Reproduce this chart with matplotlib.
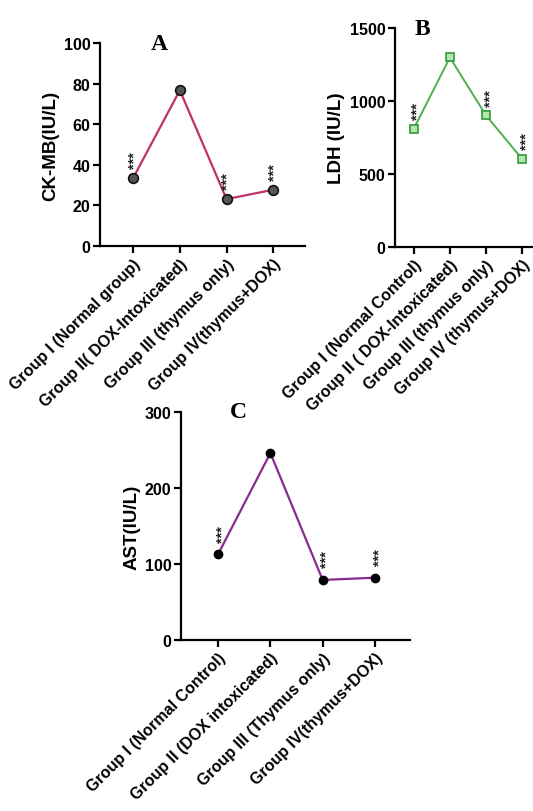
import numpy as np
import matplotlib.pyplot as plt

plt.rcParams['font.family'] = ['Liberation Sans', 'DejaVu Sans']
plt.rcParams['font.weight'] = 'bold'

# panel A
labels_a = ['Group I (Normal group)', 'Group II( DOX-Intoxicated)',
            'Group III (thymus only)', 'Group IV(thymus+DOX)']
ckmb = [33.5, 76.7, 23.1, 27.7]
stars_a = ['***', '', '***', '***']

# panel B
labels_b = ['Group I (Normal Control)', 'Group II ( DOX-Intoxicated)',
            'Group III (thymus only)', 'Group IV (thymus+DOX)']
ldh = [810, 1298, 901, 603]
stars_b = ['***', '', '***', '***']

# panel C
labels_c = ['Group I (Normal Control)', 'Group II (DOX intoxicated)',
            'Group III (Thymus only)', 'Group IV(thymus+DOX)']
ast = [113, 246, 79, 82]
stars_c = ['***', '', '***', '***']

W, H = 533, 812
fig = plt.figure(figsize=(W / 100, H / 100), dpi=100)


def add_ax(left, right, top, bottom):
    return fig.add_axes([left / W, 1 - bottom / H, (right - left) / W, (bottom - top) / H])


def style(ax, labels, ylabel, title, tx, ylim, yticks, xlim):
    x = np.arange(len(labels))
    for s in ['top', 'right']:
        ax.spines[s].set_visible(False)
    for s in ['left', 'bottom']:
        ax.spines[s].set_linewidth(1.6)
    ax.set_xlim(*xlim)
    ax.set_ylim(*ylim)
    ax.set_yticks(yticks)
    ax.set_xticks(x)
    ax.set_xticklabels(labels, rotation=45, ha='right', va='top',
                       rotation_mode='anchor', fontsize=11.2, fontweight='bold')
    ax.tick_params(width=1.6, length=5, labelsize=11.5, pad=2)
    ax.set_ylabel(ylabel, fontsize=13.5, fontweight='bold', labelpad=3)
    ax.text(tx, 1.0, title, transform=ax.transAxes, family='Liberation Serif',
            fontsize=17, fontweight='bold', ha='center', va='center')


def add_stars(ax, vals, stars, dx, dy):
    for i, (v, s) in enumerate(zip(vals, stars)):
        if s:
            ax.annotate(s, (i, v), xytext=(dx, dy), textcoords='offset points',
                        rotation=90, ha='center', va='bottom', fontsize=10.5,
                        color='#222222')


# A
ax = add_ax(100, 305, 44, 247)
xa = np.arange(4)
ax.plot(xa, ckmb, color='#c0306a', lw=1.6, marker='o', ms=7,
        mfc='#555555', mec='#111111', mew=1.2)
style(ax, labels_a, 'CK-MB(IU/L)', 'A', 0.29, (0, 100), [0, 20, 40, 60, 80, 100],
      (-0.71, 3.68))
add_stars(ax, ckmb, stars_a, 1, 7)

# B
ax = add_ax(395, 533, 29, 248)
ax.plot(xa, ldh, color='#4caf50', lw=1.4, marker='s', ms=6,
        mfc='#b8e6b0', mec='#2e9a3a', mew=1.2)
style(ax, labels_b, 'LDH (IU/L)', 'B', 0.2, (0, 1500), [0, 500, 1000, 1500],
      (-0.52, 3.3))
add_stars(ax, ldh, stars_b, 3, 7)

# C
ax = add_ax(181, 410, 413, 641)
ax.plot(xa, ast, color='#8a2a8e', lw=1.6, marker='o', ms=6,
        mfc='black', mec='black')
style(ax, labels_c, 'AST(IU/L)', 'C', 0.25, (0, 300), [0, 100, 200, 300],
      (-0.71, 3.67))
add_stars(ax, ast, stars_c, 3, 9)

fig.savefig('out.png', dpi=100)
